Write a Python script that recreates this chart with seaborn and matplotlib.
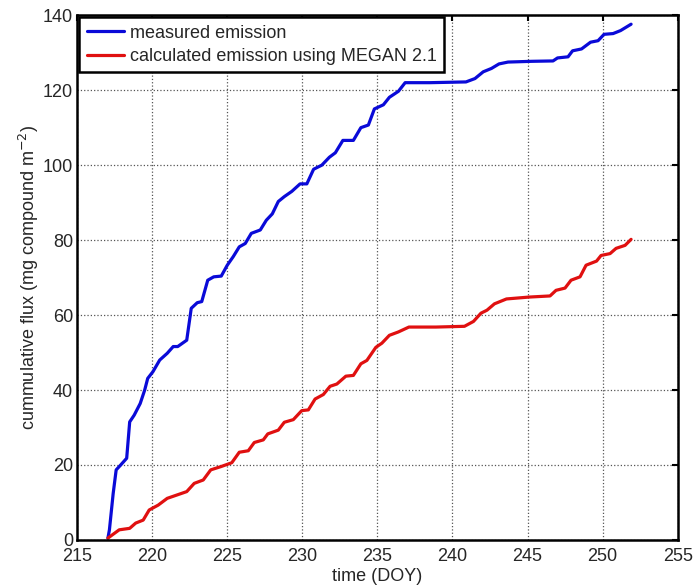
import pandas as pd
import matplotlib
matplotlib.use("Agg")
import matplotlib.pyplot as plt
import seaborn as sns

sns.set_style("white")
plt.rcParams['font.family'] = ['Liberation Sans', 'DejaVu Sans']

# values (DOY, cumulative flux)
doy_measured = [217.05, 217.15, 217.4, 217.6, 217.9, 218.3, 218.5, 218.8, 219.2, 219.5,
                219.7, 220.05, 220.5, 221.0, 221.4, 221.7, 222.3, 222.6, 223.0, 223.3,
                223.7, 224.1, 224.6, 225.0, 225.4, 225.8, 226.2, 226.6, 227.2, 227.6,
                228.0, 228.4, 228.8, 229.3, 229.85, 230.3, 230.75, 231.3, 231.8, 232.2,
                232.7, 233.4, 233.9, 234.4, 234.8, 235.4, 235.8, 236.4, 236.85, 238.5,
                240.9, 241.5, 242.05, 242.6, 243.1, 243.7, 245.3, 246.7, 247.0, 247.7,
                248.0, 248.6, 249.2, 249.7, 250.1, 250.7, 251.2, 251.9]
flux_measured = [0.5, 2.7, 12.4, 18.7, 20.0, 21.8, 31.5, 33.3, 36.4, 40.0,
                 43.1, 44.9, 48.0, 49.8, 51.6, 51.6, 53.3, 61.8, 63.3, 63.6,
                 69.3, 70.2, 70.4, 73.3, 75.6, 78.2, 79.1, 81.8, 82.7, 85.3,
                 87.0, 90.3, 91.6, 93.0, 95.0, 95.0, 98.9, 100.0, 102.1, 103.3,
                 106.6, 106.6, 110.0, 110.7, 115.0, 116.1, 118.1, 119.7, 122.0, 122.0,
                 122.2, 123.1, 124.9, 125.8, 127.0, 127.5, 127.7, 127.8, 128.6, 128.9,
                 130.5, 131.0, 132.8, 133.2, 134.9, 135.1, 135.9, 137.6]

doy_megan = [217.05, 217.8, 218.5, 218.9, 219.4, 219.8, 220.4, 221.0, 222.3, 222.8,
             223.4, 223.9, 224.6, 225.3, 225.8, 226.4, 226.8, 227.4, 227.7, 228.4,
             228.8, 229.4, 229.96, 230.4, 230.85, 231.4, 231.85, 232.3, 232.9, 233.4,
             233.9, 234.3, 234.9, 235.3, 235.8, 236.4, 237.1, 238.9, 240.8, 241.4,
             241.9, 242.3, 242.8, 243.6, 245.1, 246.5, 246.9, 247.5, 247.9, 248.5,
             248.9, 249.6, 249.9, 250.5, 250.9, 251.5, 251.9]
flux_megan = [0.5, 2.7, 3.1, 4.5, 5.3, 8.0, 9.3, 11.1, 12.9, 15.1,
              16.0, 18.7, 19.6, 20.6, 23.4, 23.8, 26.0, 26.7, 28.3, 29.3,
              31.4, 32.1, 34.5, 34.7, 37.6, 38.8, 41.0, 41.6, 43.7, 43.9,
              47.0, 47.9, 51.4, 52.5, 54.6, 55.5, 56.8, 56.8, 57.0, 58.3,
              60.5, 61.3, 63.0, 64.3, 64.8, 65.1, 66.6, 67.2, 69.3, 70.2,
              73.3, 74.4, 75.9, 76.4, 77.8, 78.6, 80.2]

labels = ['measured emission', 'calculated emission using MEGAN 2.1']

df = pd.concat([
    pd.DataFrame({'doy': doy_measured, 'flux': flux_measured, 'series': labels[0]}),
    pd.DataFrame({'doy': doy_megan, 'flux': flux_megan, 'series': labels[1]}),
])

fig = plt.figure(figsize=(6.95, 5.85), dpi=100)
ax = fig.add_axes([0.111, 0.077, 0.864, 0.897])

sns.lineplot(data=df, x='doy', y='flux', hue='series', sort=False, estimator=None,
             palette=['#0a0ad8', '#e01010'], linewidth=2.3, ax=ax)

ax.set_xlim(215, 255)
ax.set_ylim(0, 140)
ax.set_xticks(range(215, 256, 5))
ax.set_yticks(range(0, 141, 20))
ax.grid(True, linestyle=':', color='#555555', linewidth=0.9)
ax.tick_params(direction='in', top=True, right=True, length=4, width=1.5,
               labelsize=13, color='black')
ax.tick_params(axis='x', pad=6)
ax.tick_params(axis='y', pad=3)
for s in ax.spines.values():
    s.set_color('black')
    s.set_linewidth(1.8)

ax.set_xlabel('time (DOY)', fontsize=13, labelpad=2)
ax.set_ylabel('cummulative flux (mg compound m$^{-2}$)', fontsize=13, labelpad=1)

leg = ax.legend(loc='upper left', fontsize=13, frameon=True, fancybox=False,
                borderaxespad=0.12, handlelength=2.1, handletextpad=0.3,
                borderpad=0.4, labelspacing=0.35, framealpha=1)
leg.get_frame().set_edgecolor('black')
leg.get_frame().set_linewidth(1.8)

fig.savefig('out.png', dpi=100)
